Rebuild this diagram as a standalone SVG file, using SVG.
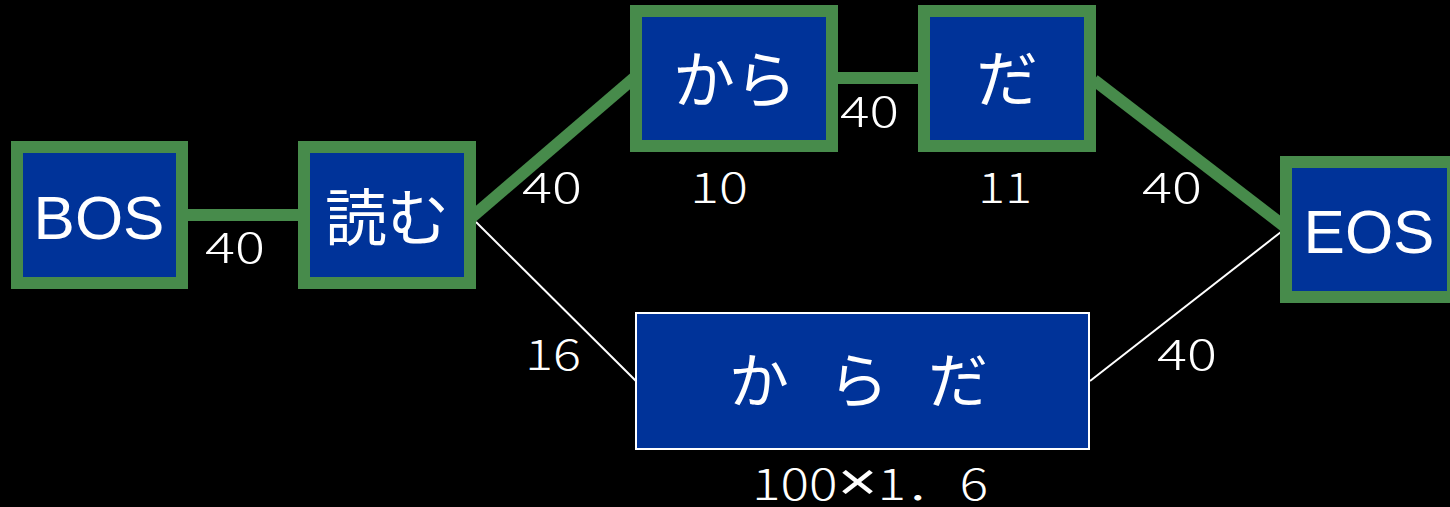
<svg xmlns="http://www.w3.org/2000/svg" width="1450" height="507" viewBox="0 0 1450 507">
<style>
.bg{fill:#000}
.node{fill:#003399;stroke:#478B4B;stroke-width:12}
.node2{fill:#003399;stroke:#fff;stroke-width:2}
.best{stroke:#478B4B;stroke-width:12;fill:none}
.thin{stroke:#fff;stroke-width:2;fill:none}
.lat{fill:#fff;font-family:"Liberation Sans",Arial,sans-serif;font-size:62px;text-anchor:middle}
.jp{fill:#fff;font-family:"Noto Sans CJK JP",sans-serif;font-size:62px;text-anchor:middle}
.num{fill:#fff;font-family:"Noto Sans CJK JP","DejaVu Sans",sans-serif;font-size:42px;font-weight:300}
.x{font-family:"Liberation Sans",sans-serif;font-size:54px}
</style>
<rect class="bg" x="0" y="0" width="1450" height="507"/>
<g id="connectors">
<line class="best" x1="188" y1="215" x2="298" y2="215"/>
<line class="best" x1="472" y1="217" x2="634" y2="78"/>
<line class="best" x1="838" y1="78" x2="918" y2="78"/>
<line class="best" x1="1094" y1="80" x2="1284" y2="226"/>
<line class="thin" x1="476" y1="222" x2="636" y2="381"/>
<line class="thin" x1="1090" y1="381" x2="1281" y2="232"/>
</g>
<g id="labels">
<text class="num" x="205" y="263" textLength="60" lengthAdjust="spacingAndGlyphs">40</text>
<text class="num" x="522" y="203" textLength="60" lengthAdjust="spacingAndGlyphs">40</text>
<text class="num" x="690" y="203" textLength="58" lengthAdjust="spacingAndGlyphs">10</text>
<text class="num" x="840" y="127" textLength="59" lengthAdjust="spacingAndGlyphs">40</text>
<text class="num" x="978" y="203" textLength="54" lengthAdjust="spacingAndGlyphs">11</text>
<text class="num" x="1142" y="203" textLength="60" lengthAdjust="spacingAndGlyphs">40</text>
<text class="num" x="525" y="370" textLength="56" lengthAdjust="spacingAndGlyphs">16</text>
<text class="num" x="1157" y="370" textLength="60" lengthAdjust="spacingAndGlyphs">40</text>
<text class="num" x="752" y="500" textLength="236" lengthAdjust="spacingAndGlyphs">100<tspan class="x">×</tspan>1．6</text>
</g>
<g id="node-bos">
<rect class="node" x="17" y="147" width="165" height="136"/>
<text class="lat" x="99" y="239">BOS</text>
</g>
<g id="node-yomu">
<rect class="node" x="304" y="147" width="166" height="136"/>
<text class="jp" x="387" y="241">読む</text>
</g>
<g id="node-kara">
<rect class="node" x="636" y="11" width="196" height="135"/>
<text class="jp" x="735" y="103">から</text>
</g>
<g id="node-da">
<rect class="node" x="924" y="11" width="166" height="135"/>
<text class="jp" x="1007" y="102">だ</text>
</g>
<g id="node-eos">
<rect class="node" x="1286" y="162" width="167" height="135"/>
<text class="lat" x="1369" y="253">EOS</text>
</g>
<g id="node-karada">
<rect class="node2" x="636" y="313" width="453" height="136"/>
<text class="jp" x="865" y="403" style="font-size:60px;letter-spacing:13px" xml:space="preserve">か ら だ</text>
</g>
</svg>
